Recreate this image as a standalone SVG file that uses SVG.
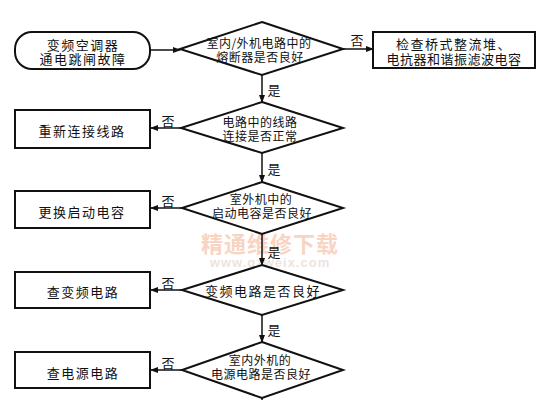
<svg xmlns="http://www.w3.org/2000/svg" width="541" height="400" viewBox="0 0 541 400">
<style>
.shape{fill:#fff;stroke:#111;stroke-width:2}
.t{font-family:"Noto Sans CJK SC","Noto Sans CJK JP",sans-serif;font-size:13px;fill:#111;text-anchor:middle;dominant-baseline:central}
.d{font-size:12px;letter-spacing:0.5px}
.b{letter-spacing:1.5px}
.r{letter-spacing:0.5px}
.lbl{font-family:"Noto Sans CJK SC",sans-serif;font-size:13px;fill:#111;text-anchor:middle;dominant-baseline:central}
.c{stroke:#111;stroke-width:1.5;fill:none}
</style>
<defs>
<marker id="ah" markerWidth="8" markerHeight="8" refX="7" refY="4" orient="auto" markerUnits="userSpaceOnUse">
<path d="M0,1 L8,4 L0,7 Z" fill="#111"/>
</marker>
</defs>
<rect width="541" height="400" fill="#fff"/>
<g id="watermark" opacity="0.45">
<text x="270" y="242" font-family="Noto Sans CJK SC,serif" font-size="22" font-weight="bold" fill="#f2a27a" text-anchor="middle" dominant-baseline="central" letter-spacing="1">精通维修下载</text>
<text x="270" y="262" font-family="Liberation Sans,sans-serif" font-size="13" font-weight="bold" fill="#d9c3b5" text-anchor="middle" dominant-baseline="central" letter-spacing="1">www.gzweix.com</text>
</g>
<g id="connectors">
<line class="c" x1="150" y1="50" x2="180" y2="50" marker-end="url(#ah)"/>
<line class="c" x1="343" y1="49" x2="373" y2="49" marker-end="url(#ah)"/>
<line class="c" x1="262" y1="75" x2="262" y2="102" marker-end="url(#ah)"/>
<line class="c" x1="181" y1="128" x2="151" y2="128" marker-end="url(#ah)"/>
<line class="c" x1="262" y1="153" x2="262" y2="182" marker-end="url(#ah)"/>
<line class="c" x1="182" y1="208" x2="151" y2="208" marker-end="url(#ah)"/>
<line class="c" x1="262" y1="234" x2="262" y2="265" marker-end="url(#ah)"/>
<line class="c" x1="182" y1="290" x2="151" y2="290" marker-end="url(#ah)"/>
<line class="c" x1="262" y1="315" x2="262" y2="342" marker-end="url(#ah)"/>
<line class="c" x1="182" y1="370" x2="151" y2="370" marker-end="url(#ah)"/>
<line class="c" x1="262" y1="398" x2="262" y2="400"/>
<text class="lbl" x="357" y="39">否</text>
<text class="lbl" x="274" y="89">是</text>
<text class="lbl" x="168" y="120">否</text>
<text class="lbl" x="274" y="168">是</text>
<text class="lbl" x="168" y="200">否</text>
<text class="lbl" x="274" y="251">是</text>
<text class="lbl" x="168" y="282">否</text>
<text class="lbl" x="274" y="329">是</text>
<text class="lbl" x="168" y="362">否</text>
</g>
<g id="start">
<rect class="shape" x="15" y="32" width="135" height="37" rx="17" ry="17"/>
<text class="t b" x="83" y="44">变频空调器</text>
<text class="t b" x="83" y="58">通电跳闸故障</text>
</g>
<g id="d1">
<polygon class="shape" points="262,22 343,49 262,75 180,49"/>
<text class="t d" x="259" y="42">室内/外机电路中的</text>
<text class="t d" x="260" y="56">熔断器是否良好</text>
</g>
<g id="b1">
<rect class="shape" x="373" y="32" width="162" height="36"/>
<text class="t b" x="454" y="43">检查桥式整流堆、</text>
<text class="t r" x="454" y="58">电抗器和谐振滤波电容</text>
</g>
<g id="d2">
<polygon class="shape" points="262,102 343,128 262,153 181,128"/>
<text class="t d" x="260" y="121">电路中的线路</text>
<text class="t d" x="260" y="135">连接是否正常</text>
</g>
<g id="b2">
<rect class="shape" x="15" y="110" width="135" height="38"/>
<text class="t b" x="82" y="130">重新连接线路</text>
</g>
<g id="d3">
<polygon class="shape" points="262,182 343,208 262,234 182,208"/>
<text class="t d" x="261" y="198">室外机中的</text>
<text class="t d" x="262" y="212">启动电容是否良好</text>
</g>
<g id="b3">
<rect class="shape" x="15" y="191" width="135" height="37"/>
<text class="t b" x="82" y="211">更换启动电容</text>
</g>
<g id="d4">
<polygon class="shape" points="262,265 343,290 262,315 182,290"/>
<text class="t b" x="263" y="290">变频电路是否良好</text>
</g>
<g id="b4">
<rect class="shape" x="15" y="272" width="135" height="36"/>
<text class="t b" x="83" y="291">查变频电路</text>
</g>
<g id="d5">
<polygon class="shape" points="262,342 343,370 262,398 182,370"/>
<text class="t d" x="260" y="359">室内外机的</text>
<text class="t d" x="261" y="373">电源电路是否良好</text>
</g>
<g id="b5">
<rect class="shape" x="15" y="352" width="135" height="36"/>
<text class="t b" x="83" y="372">查电源电路</text>
</g>
</svg>
